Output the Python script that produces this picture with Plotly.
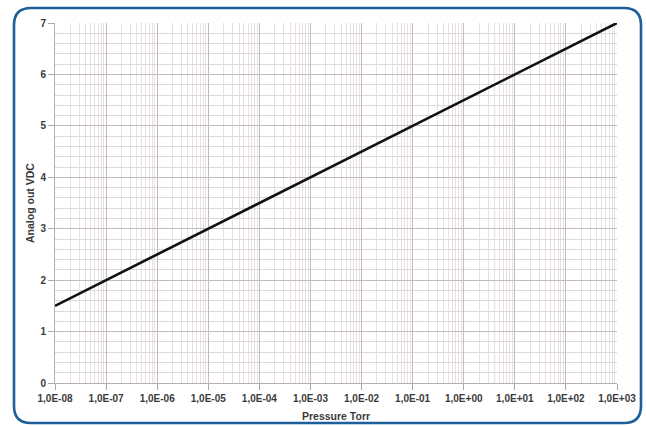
import plotly.graph_objects as go

pressure = [1e-8, 1e-7, 1e-6, 1e-5, 1e-4, 1e-3, 1e-2, 1e-1, 1e0, 1e1, 1e2, 1e3]
voltage = [1.5, 2.0, 2.5, 3.0, 3.5, 4.0, 4.5, 5.0, 5.5, 6.0, 6.5, 7.0]
x_tickvals = pressure
x_ticktext = ["1,0E-08", "1,0E-07", "1,0E-06", "1,0E-05", "1,0E-04", "1,0E-03",
              "1,0E-02", "1,0E-01", "1,0E+00", "1,0E+01", "1,0E+02", "1,0E+03"]
y_tickvals = [0, 1, 2, 3, 4, 5, 6, 7]
x_title = "Pressure Torr"
y_title = "Analog out VDC"

W, H = 646, 426
L, R, T, B = 55, 617, 23, 383

def px(x):
    return (x - L) / (R - L)

def py(y):
    return (B - y) / (B - T)

def border_path(l, r, t, b, rad):
    pts = [
        ("M", px(l + rad), py(t)),
        ("L", px(r - rad), py(t)),
        ("Q", px(r), py(t), px(r), py(t + rad)),
        ("L", px(r), py(b - rad)),
        ("Q", px(r), py(b), px(r - rad), py(b)),
        ("L", px(l + rad), py(b)),
        ("Q", px(l), py(b), px(l), py(b - rad)),
        ("L", px(l), py(t + rad)),
        ("Q", px(l), py(t), px(l + rad), py(t)),
    ]
    s = ""
    for p in pts:
        cmd = p[0]
        coords = p[1:]
        s += cmd + " " + " ".join(
            f"{coords[i]:.5f},{coords[i+1]:.5f}" for i in range(0, len(coords), 2)
        ) + " "
    return s + "Z"

fig = go.Figure()
fig.add_trace(go.Scatter(
    x=pressure, y=voltage, mode="lines",
    line=dict(color="#111111", width=2.6),
    showlegend=False, hoverinfo="skip",
))

font_family = "Arial, Liberation Sans, sans-serif"
fig.update_layout(
    width=W, height=H,
    margin=dict(l=L, r=W - R, t=T, b=H - B),
    paper_bgcolor="white",
    plot_bgcolor="white",
    font=dict(family=font_family, size=10, color="#3a3a3a", weight="bold"),
    xaxis=dict(
        type="log",
        range=[-8, 3],
        tickvals=x_tickvals,
        ticktext=x_ticktext,
        tickangle=0,
        automargin=False,
        showgrid=True,
        gridcolor="#c4bcbc",
        gridwidth=1,
        minor=dict(dtick="D1", showgrid=True, gridcolor="#e6e0e0", gridwidth=1),
        ticks="outside", ticklen=6, tickcolor="#b0a6a6",
        showline=True, linecolor="#b8aeae", linewidth=1,
        zeroline=False,
        tickfont=dict(size=10, weight="bold"),
    ),
    yaxis=dict(
        range=[0, 7],
        tickvals=y_tickvals,
        automargin=False,
        showgrid=True,
        gridcolor="#c4bcbc",
        gridwidth=1,
        minor=dict(dtick=0.2, showgrid=True, gridcolor="#dfd8d8", gridwidth=1),
        ticks="outside", ticklen=6, tickcolor="#b0a6a6",
        showline=True, linecolor="#b8aeae", linewidth=1,
        zeroline=False,
        tickfont=dict(size=10, weight="bold"),
    ),
    annotations=[
        dict(text=x_title, xref="paper", yref="paper", x=0.5, y=py(416),
             xanchor="center", yanchor="middle", showarrow=False,
             font=dict(size=10.5, weight="bold", color="#3a3a3a")),
        dict(text=y_title, xref="paper", yref="paper", x=px(30), y=0.5,
             xanchor="center", yanchor="middle", showarrow=False, textangle=-90,
             font=dict(size=10.5, weight="bold", color="#3a3a3a")),
    ],
    shapes=[dict(
        type="path", xref="paper", yref="paper",
        path=border_path(14, 641, 8, 423, 17),
        line=dict(color="#1d5e9b", width=2.6),
        fillcolor="rgba(0,0,0,0)",
        layer="above",
    )],
)

fig.write_html("out.html", config={"displayModeBar": False},
               post_script="document.body.style.margin='0';document.body.style.overflow='hidden';")
